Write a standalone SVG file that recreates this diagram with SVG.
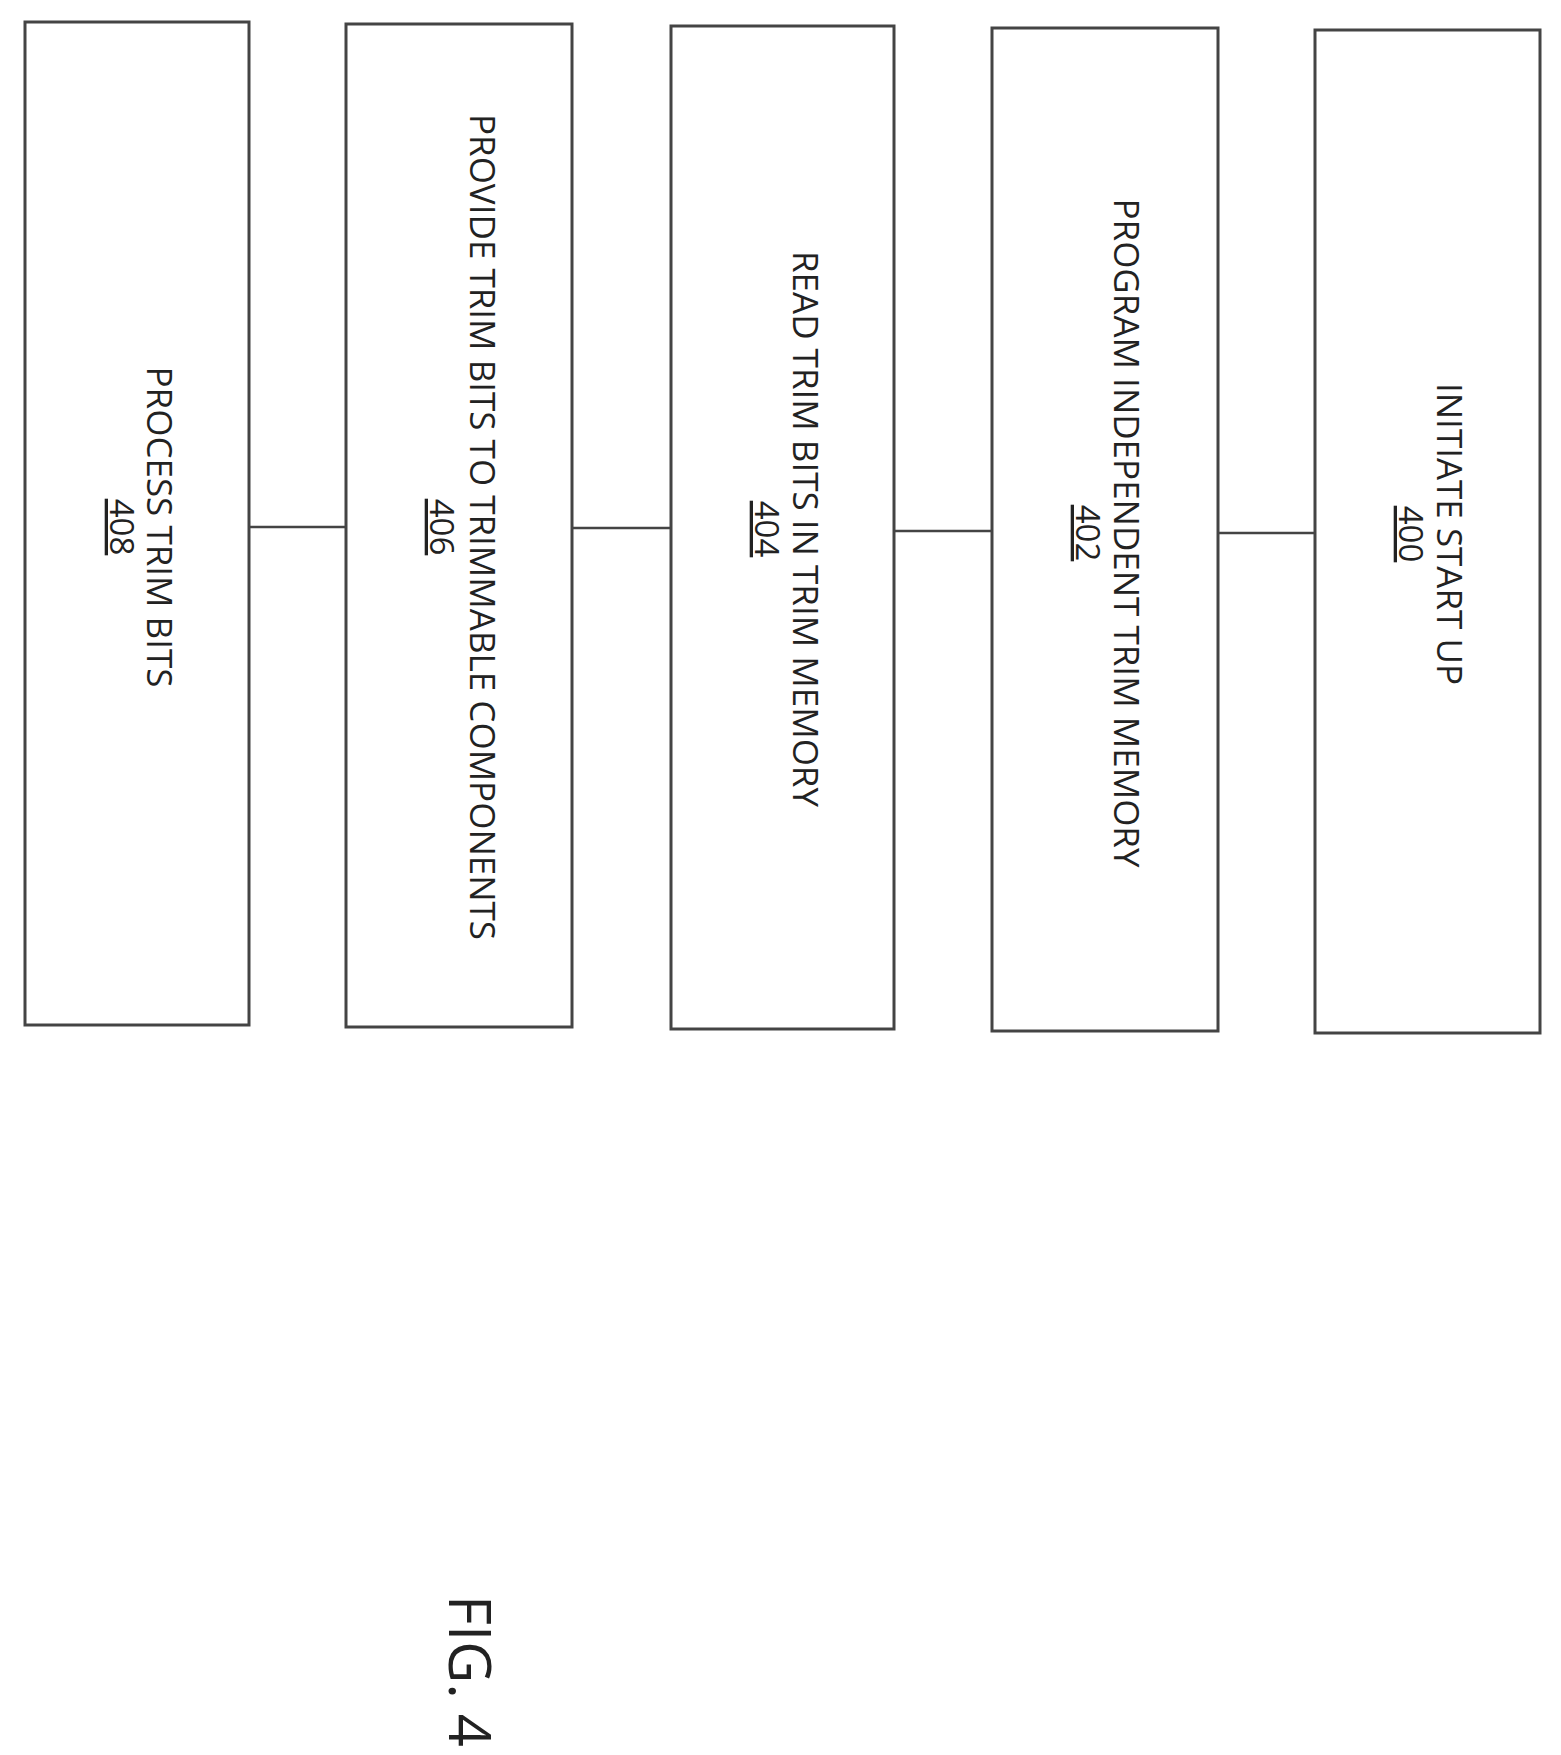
<svg xmlns="http://www.w3.org/2000/svg" width="1561" height="1755" viewBox="0 0 1561 1755">
<style>
.b{fill:#fff;stroke:#444;stroke-width:3}
.t{font-family:"Open Sans","Noto Sans",sans-serif;font-size:35px;fill:#222;text-anchor:middle}
.n{text-decoration:underline;font-size:33px}
.c{stroke:#444;stroke-width:2.5}
</style>
<rect width="1561" height="1755" fill="#fff"/>
<g id="connectors">
<line class="c" x1="249" y1="527" x2="346" y2="527"/>
<line class="c" x1="572" y1="528" x2="671" y2="528"/>
<line class="c" x1="894" y1="531" x2="992" y2="531"/>
<line class="c" x1="1218" y1="533" x2="1315" y2="533"/>
</g>
<g id="n408">
<rect class="b" x="25" y="22" width="224" height="1003"/>
<text class="t" transform="translate(147,527) rotate(90)">PROCESS TRIM BITS</text>
<text class="t n" transform="translate(110,527) rotate(90)">408</text>
</g>
<g id="n406">
<rect class="b" x="346" y="24" width="226" height="1003"/>
<text class="t" transform="translate(470,527) rotate(90)">PROVIDE TRIM BITS TO TRIMMABLE COMPONENTS</text>
<text class="t n" transform="translate(430,527) rotate(90)">406</text>
</g>
<g id="n404">
<rect class="b" x="671" y="26" width="223" height="1003"/>
<text class="t" transform="translate(793,529) rotate(90)">READ TRIM BITS IN TRIM MEMORY</text>
<text class="t n" transform="translate(755,529) rotate(90)">404</text>
</g>
<g id="n402">
<rect class="b" x="992" y="28" width="226" height="1003"/>
<text class="t" transform="translate(1114,533) rotate(90)">PROGRAM INDEPENDENT TRIM MEMORY</text>
<text class="t n" transform="translate(1076,533) rotate(90)">402</text>
</g>
<g id="n400">
<rect class="b" x="1315" y="30" width="225" height="1003"/>
<text class="t" transform="translate(1437,534) rotate(90)">INITIATE START UP</text>
<text class="t n" transform="translate(1399,534) rotate(90)">400</text>
</g>
<text class="t" style="font-size:58px" transform="translate(449,1671) rotate(90)">FIG. 4</text>
</svg>
